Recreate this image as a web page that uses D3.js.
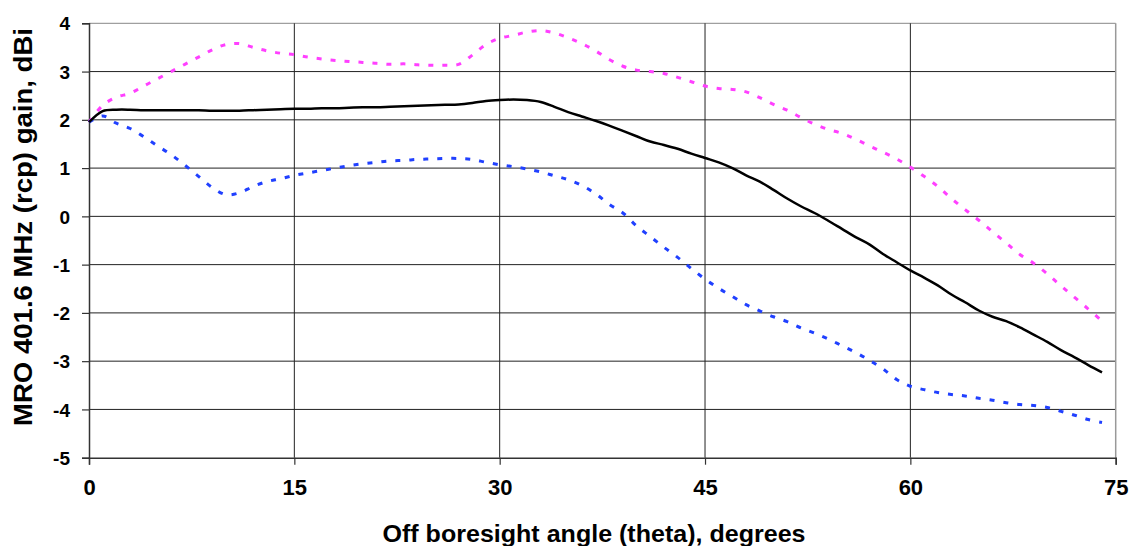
<!DOCTYPE html>
<html>
<head>
<meta charset="utf-8">
<script src="https://cdn.jsdelivr.net/npm/d3@7"></script>
<style>
  html, body { margin: 0; padding: 0; background: #fff; }
  svg { display: block; }
  text { font-family: "Liberation Sans", Arial, sans-serif; font-weight: bold; fill: #000; }
</style>
</head>
<body>
<svg id="chart" width="1131" height="546"></svg>
<script>
// ---- data ----
const angles = d3.range(0, 75); // 0..74 degrees
const gainMax = [1.95, 2.3, 2.47, 2.55, 2.7, 2.85, 3.0, 3.15, 3.3, 3.45, 3.56, 3.58, 3.5, 3.43, 3.38,
  3.35, 3.3, 3.26, 3.23, 3.21, 3.19, 3.17, 3.15, 3.16, 3.14, 3.13, 3.13, 3.15, 3.34, 3.56,
  3.69, 3.75, 3.82, 3.85, 3.8, 3.7, 3.58, 3.43, 3.25, 3.11, 3.03, 3.0, 2.96, 2.88, 2.79,
  2.7, 2.65, 2.63, 2.58, 2.46, 2.32, 2.2, 2.05, 1.91, 1.8, 1.72, 1.6, 1.46, 1.33, 1.19,
  1.02, 0.83, 0.62, 0.37, 0.14, -0.08, -0.32, -0.55, -0.79, -0.97, -1.19, -1.44, -1.68, -1.92, -2.17];
const gainMean = [1.95, 2.18, 2.21, 2.21, 2.2, 2.2, 2.2, 2.2, 2.2, 2.19, 2.19, 2.19, 2.2, 2.21, 2.22,
  2.23, 2.23, 2.24, 2.24, 2.25, 2.26, 2.26, 2.27, 2.28, 2.29, 2.3, 2.31, 2.32, 2.35, 2.39,
  2.41, 2.42, 2.41, 2.37, 2.27, 2.16, 2.07, 1.98, 1.88, 1.77, 1.66, 1.55, 1.48, 1.4, 1.3,
  1.21, 1.12, 1.0, 0.85, 0.72, 0.55, 0.37, 0.21, 0.07, -0.09, -0.26, -0.43, -0.58, -0.78, -0.95,
  -1.12, -1.27, -1.43, -1.62, -1.78, -1.95, -2.08, -2.17, -2.3, -2.45, -2.6, -2.77, -2.92, -3.08, -3.23];
const gainMin = [1.95, 2.08, 1.93, 1.82, 1.65, 1.46, 1.28, 1.06, 0.83, 0.6, 0.45, 0.49, 0.62, 0.72, 0.78,
  0.85, 0.9, 0.95, 1.0, 1.05, 1.09, 1.12, 1.15, 1.16, 1.18, 1.19, 1.2, 1.2, 1.18, 1.12,
  1.07, 1.03, 0.98, 0.92, 0.84, 0.76, 0.64, 0.47, 0.25, 0.07, -0.2, -0.42, -0.64, -0.85, -1.08,
  -1.3, -1.49, -1.66, -1.83, -1.96, -2.08, -2.18, -2.31, -2.42, -2.54, -2.68, -2.82, -2.98, -3.16, -3.38,
  -3.52, -3.59, -3.65, -3.69, -3.72, -3.77, -3.81, -3.86, -3.9, -3.92, -3.96, -4.04, -4.12, -4.21, -4.27];
const xTicks = [0, 15, 30, 45, 60, 75];
const yTicks = [-5, -4, -3, -2, -1, 0, 1, 2, 3, 4];
const xTitle = "Off boresight angle (theta), degrees";
const yTitle = "MRO 401.6 MHz (rcp) gain, dBi";

// ---- layout ----
const svg = d3.select("#chart");
const pLeft = 89, pRight = 1115.7, pTop = 23.3, pBottom = 457.7;
const x = d3.scaleLinear().domain([0, 75]).range([pLeft, pRight]);
const y = d3.scaleLinear().domain([-5, 4]).range([pBottom, pTop]);

// horizontal grid
svg.append("g").selectAll("line").data(yTicks.filter(d => d > -5)).join("line")
  .attr("x1", pLeft).attr("x2", pRight)
  .attr("y1", d => y(d)).attr("y2", d => y(d))
  .attr("stroke", d => d === 4 ? "#888" : "#222").attr("stroke-width", 1);
// vertical grid
svg.append("g").selectAll("line").data(xTicks.filter(d => d > 0 && d < 75)).join("line")
  .attr("y1", pTop).attr("y2", pBottom)
  .attr("x1", d => x(d)).attr("x2", d => x(d))
  .attr("stroke", "#222").attr("stroke-width", 1);
// right border
svg.append("line").attr("x1", pRight).attr("x2", pRight).attr("y1", pTop).attr("y2", pBottom)
  .attr("stroke", "#999").attr("stroke-width", 1.5);

// axes
const fmt = d => String(d);
const yAxis = d3.axisLeft(y).tickValues(yTicks).tickSize(7).tickPadding(12).tickFormat(fmt);
const gy = svg.append("g").attr("transform", `translate(${pLeft},0)`).call(yAxis);
gy.select(".domain").attr("stroke", "#333").attr("stroke-width", 1.5);
gy.selectAll(".tick line").attr("stroke", "#333").attr("stroke-width", 1.2);
gy.selectAll(".tick text").style("font-size", "19px").attr("font-family", null).attr("fill", "#000")
  .attr("dy", "0.35em");

const xAxis = d3.axisBottom(x).tickValues(xTicks).tickSize(7).tickPadding(15).tickFormat(fmt);
const gx = svg.append("g").attr("transform", `translate(0,${pBottom})`).call(xAxis);
gx.select(".domain").attr("stroke", "#333").attr("stroke-width", 1.5);
gx.selectAll(".tick line").attr("stroke", "#333").attr("stroke-width", 1.2);
gx.selectAll(".tick text").style("font-size", "22px").attr("font-family", null).attr("fill", "#000");

// series
const line = d3.line().x((d, i) => x(angles[i])).y(d => y(d)).curve(d3.curveCatmullRom);
svg.append("path").datum(gainMax).attr("d", line).attr("fill", "none")
  .attr("stroke", "#ff40ff").attr("stroke-width", 3).attr("stroke-dasharray", "5,9");
svg.append("path").datum(gainMin).attr("d", line).attr("fill", "none")
  .attr("stroke", "#2040ff").attr("stroke-width", 3).attr("stroke-dasharray", "5,9");
svg.append("path").datum(gainMean).attr("d", line).attr("fill", "none")
  .attr("stroke", "#000").attr("stroke-width", 2.5);

// titles
svg.append("text").attr("x", 594).attr("y", 541.5).attr("text-anchor", "middle")
  .style("font-size", "24px").attr("textLength", 423).attr("lengthAdjust", "spacingAndGlyphs")
  .text(xTitle);
svg.append("text").attr("transform", "translate(32,227) rotate(-90)").attr("text-anchor", "middle")
  .style("font-size", "26px").attr("textLength", 398).attr("lengthAdjust", "spacingAndGlyphs")
  .text(yTitle);
</script>
</body>
</html>
